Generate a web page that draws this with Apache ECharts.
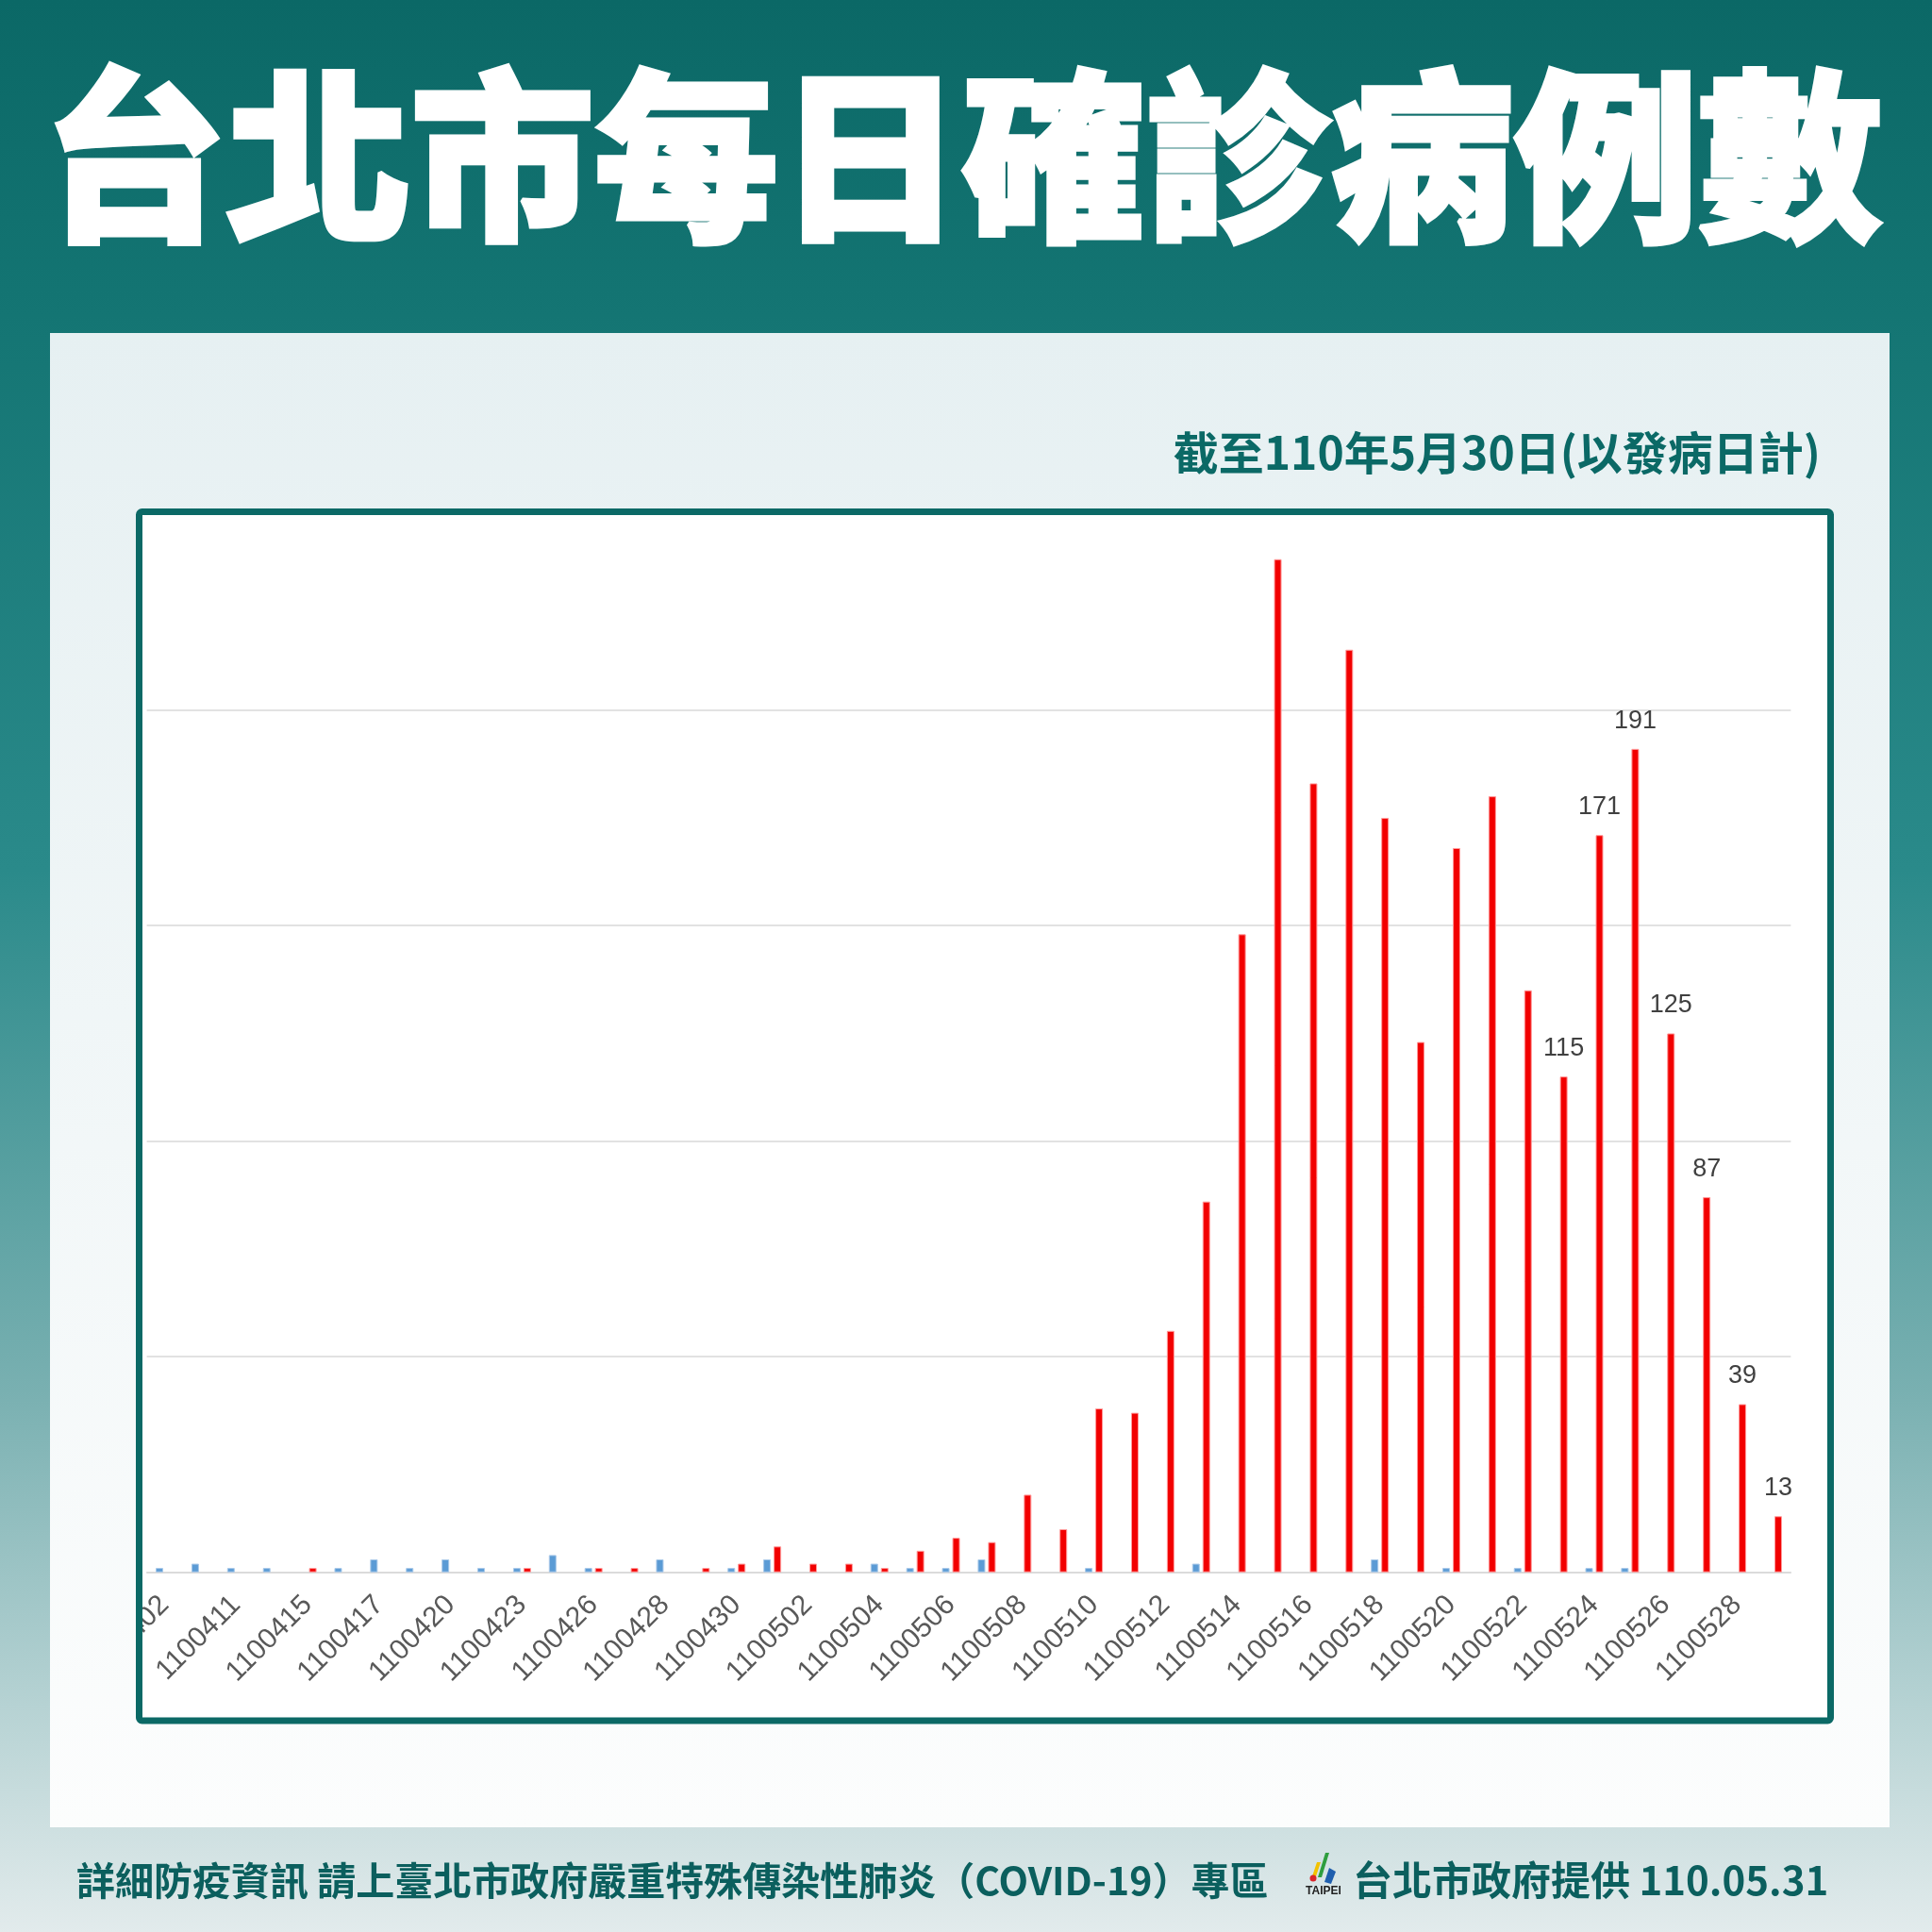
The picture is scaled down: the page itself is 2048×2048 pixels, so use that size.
<!DOCTYPE html>
<html>
<head>
<meta charset="utf-8">
<script src="https://cdn.jsdelivr.net/npm/echarts@6/dist/echarts.min.js"></script>
<style>
html, body { margin: 0; padding: 0; background: #0c6b69; }
#c { width: 2048px; height: 2048px; }
</style>
</head>
<body>
<div id="c"></div>
<script>
// ---- data ----
const dates = [
  '1100402', '1100409', '1100411', '1100413', '1100415', '1100416', '1100417', '1100418',
  '1100420', '1100421', '1100423', '1100424', '1100426', '1100427', '1100428', '1100429',
  '1100430', '1100501', '1100502', '1100503', '1100504', '1100505', '1100506', '1100507',
  '1100508', '1100509', '1100510', '1100511', '1100512', '1100513', '1100514', '1100515',
  '1100516', '1100517', '1100518', '1100519', '1100520', '1100521', '1100522', '1100523',
  '1100524', '1100525', '1100526', '1100527', '1100528', '1100529'
];
const redCases = [
  0, 0, 0, 0, 1, 0, 0, 0,
  0, 0, 1, 0, 1, 1, 0, 1,
  2, 6, 2, 2, 1, 5, 8, 7,
  18, 10, 38, 37, 56, 86, 148, 235,
  183, 214, 175, 123, 168, 180, 135, 115,
  171, 191, 125, 87, 39, 13
];
const blueCases = [
  1, 2, 1, 1, 0, 1, 3, 1,
  3, 1, 1, 4, 1, 0, 3, 0,
  1, 3, 0, 0, 2, 1, 1, 3,
  0, 0, 1, 0, 0, 2, 0, 0,
  0, 0, 3, 0, 1, 0, 1, 0,
  1, 1, 0, 0, 0, 0
];
const labeledDates = ['1100523', '1100524', '1100525', '1100526', '1100527', '1100528', '1100529'];
const yMax = 246;
const yInterval = 50;

const titleText = '台北市每日確診病例數';
const subtitleText = '截至110年5月30日(以發病日計)';
const footerLeftText = '詳細防疫資訊 請上臺北市政府嚴重特殊傳染性肺炎（COVID-19）專區';
const footerRightText = '台北市政府提供 110.05.31';

// ---- chart ----
const chart = echarts.init(document.getElementById('c'), null, { renderer: 'canvas', width: 2048, height: 2048 });

const bgGrad = {
  type: 'linear', x: 0, y: 0, x2: 0, y2: 1,
  colorStops: [
    { offset: 0, color: '#0b6866' },
    { offset: 0.15, color: '#137472' },
    { offset: 0.45, color: '#2a8a8a' },
    { offset: 0.72, color: '#79b0b1' },
    { offset: 1, color: '#e2ebec' }
  ]
};
const panelGrad = {
  type: 'linear', x: 0, y: 353, x2: 0, y2: 1937, global: true,
  colorStops: [
    { offset: 0, color: '#e6f0f2' },
    { offset: 1, color: '#fcfdfd' }
  ]
};

const tealDark = '#0b6966';
const labelFont = "'Liberation Sans', Arial, sans-serif";
const cjkFont = "'Noto Sans CJK TC', 'Noto Sans CJK SC', sans-serif";

const option = {
  animation: false,
  graphic: [
    { type: 'rect', z: -100, silent: true, shape: { x: 0, y: 0, width: 2048, height: 2048 }, style: { fill: bgGrad } },
    { type: 'rect', z: -90, silent: true, shape: { x: 53, y: 353, width: 1950, height: 1584 }, style: { fill: panelGrad } },
    { type: 'rect', z: -80, silent: true, shape: { x: 151, y: 546, width: 1786, height: 1275 }, style: { fill: '#ffffff' } },
    {
      type: 'text', z: 10, silent: true,
      style: {
        text: titleText, x: 1020, y: 166,
        font: "900 195px " + cjkFont,
        fill: '#ffffff', stroke: '#ffffff', lineWidth: 5,
        textAlign: 'center', textVerticalAlign: 'middle', align: 'center', verticalAlign: 'middle',
        shadowColor: 'rgba(2,40,40,0.9)', shadowBlur: 20, shadowOffsetX: 6, shadowOffsetY: 14
      }
    },
    {
      type: 'text', z: 10, silent: true,
      style: {
        text: subtitleText, x: 1930, y: 480,
        font: "bold 48px " + cjkFont,
        fill: tealDark,
        textAlign: 'right', textVerticalAlign: 'middle', align: 'right', verticalAlign: 'middle'
      }
    },
    // cover to clip labels leaking left of the chart box
    { type: 'rect', z: 99, silent: true, shape: { x: 53, y: 1600, width: 92, height: 235 }, style: { fill: panelGrad } },
    // chart box border
    { type: 'rect', z: 100, silent: true, shape: { x: 147.5, y: 542.5, width: 1793, height: 1281.5, r: 3 }, style: { fill: null, stroke: tealDark, lineWidth: 7 } },
    // footer
    {
      type: 'text', z: 10, silent: true,
      style: {
        text: footerLeftText, x: 81, y: 1993,
        font: "bold 41px " + cjkFont,
        fill: '#0b5f5e',
        textAlign: 'left', textVerticalAlign: 'middle', align: 'left', verticalAlign: 'middle'
      }
    },
    {
      type: 'text', z: 10, silent: true,
      style: {
        text: footerRightText, x: 1434, y: 1993,
        font: "bold 42px " + cjkFont,
        fill: '#0b5f5e',
        textAlign: 'left', textVerticalAlign: 'middle', align: 'left', verticalAlign: 'middle'
      }
    },
    // Taipei logo (simplified)
    { type: 'polygon', z: 10, silent: true, shape: { points: [[1405, 1964], [1409, 1964], [1401, 1990], [1397, 1990]] }, style: { fill: '#2e9e3e' } },
    { type: 'polygon', z: 10, silent: true, shape: { points: [[1396, 1974], [1400, 1974], [1394, 1992], [1390, 1992]] }, style: { fill: '#f2c200' } },
    { type: 'circle', z: 10, silent: true, shape: { cx: 1392, cy: 1991, r: 3.5 }, style: { fill: '#d9262b' } },
    { type: 'polygon', z: 10, silent: true, shape: { points: [[1409, 1980], [1416, 1984], [1411, 1997], [1404, 1995]] }, style: { fill: '#1f5fae' } },
    {
      type: 'text', z: 10, silent: true,
      style: {
        text: 'TAIPEI', x: 1403, y: 2005,
        font: "bold 12px 'Liberation Sans', Arial, sans-serif",
        fill: '#222222',
        textAlign: 'center', textVerticalAlign: 'middle', align: 'center', verticalAlign: 'middle'
      }
    }
  ],
  grid: { left: 155.6, right: 149.6, top: 542.5, bottom: 381.3, containLabel: false },
  xAxis: {
    type: 'category',
    data: dates,
    boundaryGap: true,
    axisTick: { show: false },
    axisLine: { show: true, lineStyle: { color: '#d9d9d9', width: 1.5 } },
    axisLabel: {
      interval: 1, rotate: 45, margin: 30,
      fontSize: 30, color: '#595959', fontFamily: labelFont
    },
    splitLine: { show: false }
  },
  yAxis: {
    type: 'value',
    min: 0, max: yMax, interval: yInterval,
    axisLabel: { show: false },
    axisLine: { show: false },
    axisTick: { show: false },
    splitLine: { show: true, lineStyle: { color: '#d9d9d9', width: 1.5 } }
  },
  series: [
    {
      name: '其他',
      type: 'bar',
      silent: true,
      barWidth: 8,
      barGap: '37.5%',
      data: blueCases.map(v => (v === 0 ? '-' : v)),
      itemStyle: { color: '#5b9bd5', borderColor: '#a9c9e9', borderWidth: 1 }
    },
    {
      name: '本土',
      type: 'bar',
      silent: true,
      barWidth: 8,
      barGap: '37.5%',
      data: redCases.map((v, i) => {
        const val = v === 0 ? '-' : v;
        return labeledDates.indexOf(dates[i]) >= 0 ? { value: val, label: { show: true } } : val;
      }),
      itemStyle: { color: '#f20000', borderColor: '#ff9a9a', borderWidth: 1 },
      label: {
        show: false, position: 'top', distance: 16,
        color: '#404040', fontSize: 27, fontFamily: labelFont
      }
    }
  ]
};

chart.setOption(option);
</script>
</body>
</html>
